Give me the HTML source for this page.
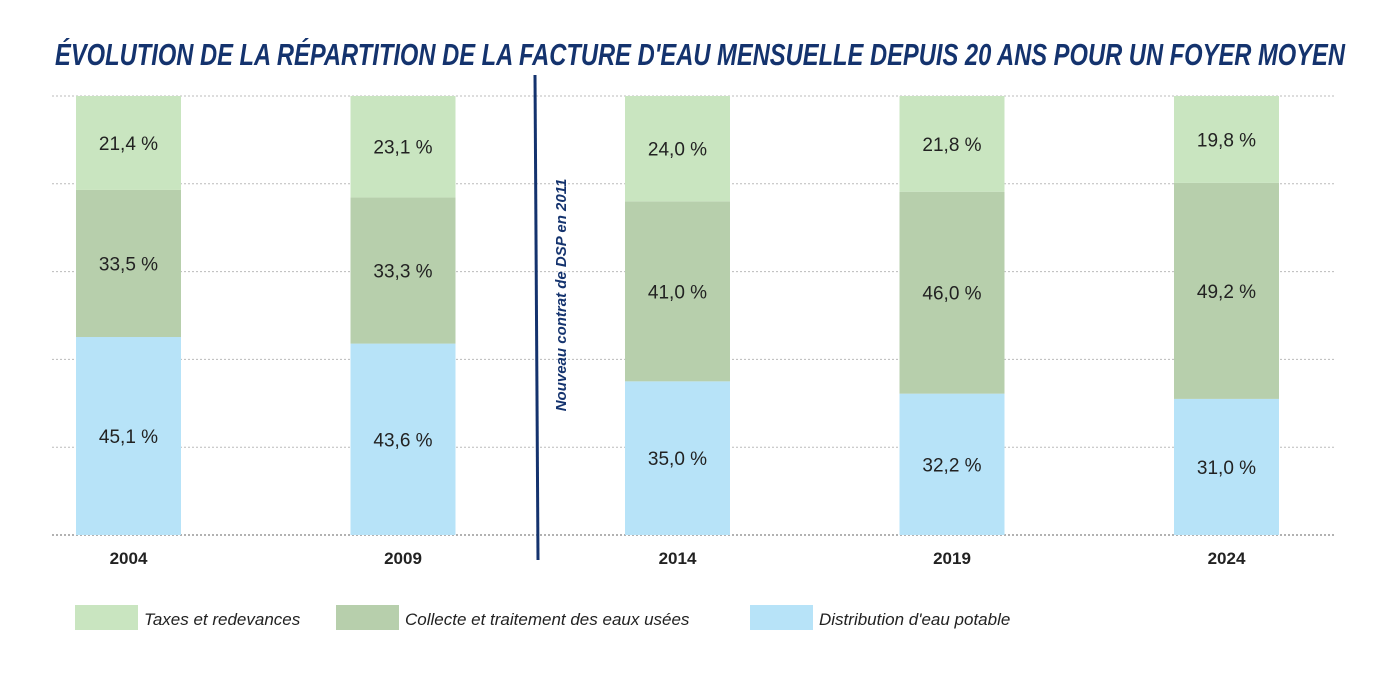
<!DOCTYPE html>
<html><head><meta charset="utf-8"><style>
body{margin:0;background:#fff;}
svg{display:block;font-family:"Liberation Sans",sans-serif;}
</style></head><body>
<svg width="1390" height="688" viewBox="0 0 1390 688">
<text x="55" y="65" font-size="31" font-weight="bold" font-style="italic" fill="#14336e" textLength="1290" lengthAdjust="spacingAndGlyphs">ÉVOLUTION DE LA RÉPARTITION DE LA FACTURE D'EAU MENSUELLE DEPUIS 20 ANS POUR UN FOYER MOYEN</text>
<g id="grid"></g>
<g id="bars"></g>
<line x1="535" y1="75" x2="538" y2="560" stroke="#14336e" stroke-width="3"/>
<text transform="translate(566,295) rotate(-90)" text-anchor="middle" font-size="15" font-weight="bold" font-style="italic" fill="#14336e">Nouveau contrat de DSP en 2011</text>
<g>
<rect x="75" y="605" width="63" height="25" fill="#c9e5c0"/>
<text x="144" y="625" font-size="17" font-style="italic" fill="#222">Taxes et redevances</text>
<rect x="336" y="605" width="63" height="25" fill="#b7cfac"/>
<text x="405" y="625" font-size="17" font-style="italic" fill="#222">Collecte et traitement des eaux usées</text>
<rect x="750" y="605" width="63" height="25" fill="#b7e3f8"/>
<text x="819" y="625" font-size="17" font-style="italic" fill="#222">Distribution d'eau potable</text>
</g>
</svg>
<script>
const years = ["2004","2009","2014","2019","2024"];
const distribution = [45.1, 43.6, 35.0, 32.2, 31.0];
const collecte = [33.5, 33.3, 41.0, 46.0, 49.2];
const taxes = [21.4, 23.1, 24.0, 21.8, 19.8];
const gridTicks = [0, 20, 40, 60, 80, 100];

const NS = "http://www.w3.org/2000/svg";
const y0 = 535, y1 = 96, plotH = y0 - y1;
const yScale = v => y0 - v / 100 * plotH;
const xScale = i => 76 + i * 274.5;
const barW = 105;
const fmt = v => v.toFixed(1).replace(".", ",") + " %";

const grid = document.getElementById("grid");
gridTicks.forEach(t => {
  const l = document.createElementNS(NS, "line");
  l.setAttribute("x1", 52); l.setAttribute("x2", 1335);
  l.setAttribute("y1", yScale(t)); l.setAttribute("y2", yScale(t));
  l.setAttribute("stroke", t === 0 ? "#999" : "#bbb");
  l.setAttribute("stroke-width", t === 0 ? 1.5 : 1);
  l.setAttribute("stroke-dasharray", "2,2");
  
  
  grid.appendChild(l);
});

const bars = document.getElementById("bars");
const series = [
  {vals: distribution, color: "#b7e3f8", name: "distribution"},
  {vals: collecte, color: "#b7cfac", name: "collecte"},
  {vals: taxes, color: "#c9e5c0", name: "taxes"}
];
years.forEach((yr, i) => {
  let cum = 0;
  const x = xScale(i);
  series.forEach(s => {
    const v = s.vals[i];
    const top = yScale(cum + v), bot = yScale(cum);
    const r = document.createElementNS(NS, "rect");
    r.setAttribute("x", x); r.setAttribute("y", top);
    r.setAttribute("width", barW); r.setAttribute("height", bot - top);
    r.setAttribute("fill", s.color);
    
    
    bars.appendChild(r);
    const t = document.createElementNS(NS, "text");
    t.setAttribute("x", x + barW / 2); t.setAttribute("y", (top + bot) / 2 + 7);
    t.setAttribute("text-anchor", "middle"); t.setAttribute("font-size", "19");
    t.setAttribute("fill", "#222");
    t.textContent = fmt(v);
    
    
    bars.appendChild(t);
    cum += v;
  });
  const lab = document.createElementNS(NS, "text");
  lab.setAttribute("x", x + barW / 2); lab.setAttribute("y", 564);
  lab.setAttribute("text-anchor", "middle"); lab.setAttribute("font-size", "17");
  lab.setAttribute("font-weight", "bold"); lab.setAttribute("fill", "#222");
  lab.textContent = yr;
  
  
  bars.appendChild(lab);
});
</script>
</body></html>
